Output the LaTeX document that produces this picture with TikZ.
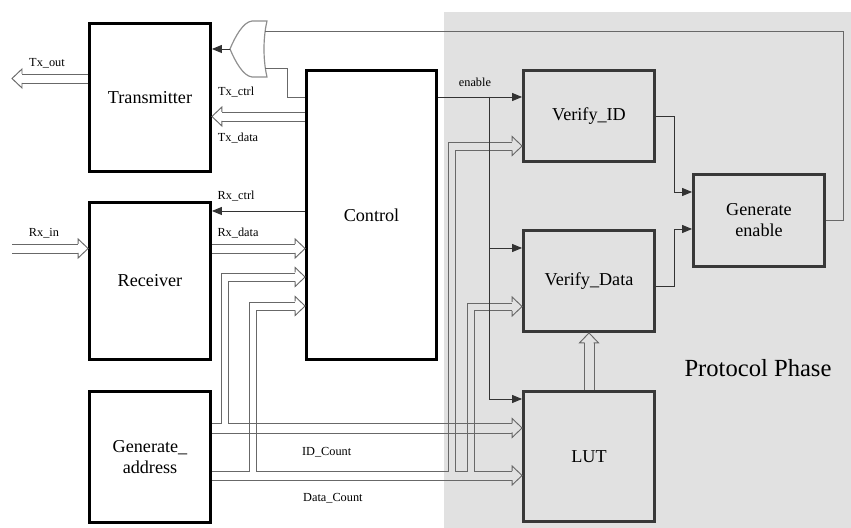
\documentclass[tikz,border=0pt]{standalone}
\usepackage{fontspec}
\setmainfont{Liberation Serif}
\usepackage{tikz}
\usetikzlibrary{arrows.meta, positioning}
\definecolor{phasegray}{HTML}{E1E1E1}
\definecolor{busline}{HTML}{686868}
\definecolor{wireline}{HTML}{333333}
\definecolor{gateline}{HTML}{8E8E8E}
\definecolor{boxline}{HTML}{383838}

\begin{document}
\begin{tikzpicture}[
    x=0.3mm, y=-0.3mm,
    blk/.style={draw=black, line width=2.4pt, fill=white, align=center,
        font=\fontsize{15.5}{18}\selectfont},
    pblk/.style={blk, draw=boxline, fill=phasegray},
    bus/.style={draw=busline, line width=0.8pt},
    busin/.style={bus, shorten >=3mm},
    sig/.style={draw=wireline, line width=0.8pt, -{Triangle[length=3mm, width=2.4mm]}},
    wire/.style={draw=busline, line width=0.8pt},
    lab/.style={font=\fontsize{10.5}{12}\selectfont, inner sep=1pt},
    hhead/.pic={\draw[bus] (-10,-4.5) -- (-10,-9.5) -- (0,0) -- (-10,9.5) -- (-10,4.5);}
]
\useasboundingbox (0,0) rectangle (851,528);
\fill[white] (0,0) rectangle (851,528);

% --- Protocol phase area ---
\fill[phasegray] (444,12) rectangle (851,528);
\node[font=\fontsize{21}{25}\selectfont] (phlab) at (758,368) {Protocol Phase};

% --- Blocks ---
\node[blk, minimum width=3.63cm, minimum height=4.44cm] (trans) at (150,97.5) {Transmitter};
\node[blk, minimum width=3.63cm, minimum height=4.71cm] (recv) at (150,281) {Receiver};
\node[blk, minimum width=3.63cm, minimum height=3.93cm] (gena) at (150,457) {Generate\_\\address};
\node[blk, minimum width=3.9cm, minimum height=8.67cm] (ctrl) at (371.5,215) {Control};
\node[pblk, minimum width=3.93cm, minimum height=2.73cm] (vid) at (589,116) {Verify\_ID};
\node[pblk, minimum width=3.93cm, minimum height=3.03cm] (vdata) at (589,281) {Verify\_Data};
\node[pblk, minimum width=3.93cm, minimum height=3.9cm] (lut) at (589,456.5) {LUT};
\node[pblk, minimum width=3.93cm, minimum height=2.76cm] (genen) at (759,220.5) {Generate\\enable};

% --- OR gate in front of the transmitter ---
\coordinate (gout) at (230,49);
\coordinate (gin1) at (265,31);
\coordinate (gin2) at (265,68);
\draw[draw=gateline, line width=1pt, fill=white] (267,21) -- (252,21)
    .. controls (243,22) and (235,37) .. (gout)
    .. controls (235,61) and (243,76) .. (252,77) -- (267,77)
    .. controls (263,60) and (263,38) .. (267,21) -- cycle;
\draw[sig] (gout) -- (trans.east |- gout);
\draw[wire] (genen.east) -- ++(18,0) |- (gin1);
\draw[wire] (ctrl.west |- 0,97) -- ++(-18,0) |- (gin2);

% --- Transmitter / receiver buses ---
\coordinate (txout) at (12,78.5);
\draw[busin] (trans.west |- 0,74) -- (txout |- 0,74)
    node[lab, pos=.54, yshift=3.3mm] (ltxout) {Tx\_out};
\draw[busin] (trans.west |- 0,83) -- (txout |- 0,83);
\pic[rotate=180] at (txout) {hhead};

\draw[busin] (ctrl.west |- 0,112) -- (trans.east |- 0,112)
    node[lab, pos=.74, yshift=6mm] (ltxctrl) {Tx\_ctrl};
\draw[busin] (ctrl.west |- 0,121) -- (trans.east |- 0,121)
    node[lab, pos=.72, yshift=-5.1mm] (ltxdata) {Tx\_data};
\pic[rotate=180] at (trans.east |- 0,116.5) {hhead};

\draw[sig] (ctrl.west |- 0,211) -- (recv.east |- 0,211)
    node[lab, pos=.74, yshift=4.5mm] (lrxctrl) {Rx\_ctrl};

\coordinate (rxin) at (12,248.5);
\draw[busin] (rxin |- 0,244) -- (recv.west |- 0,244)
    node[lab, pos=.42, yshift=3.3mm] (lrxin) {Rx\_in};
\draw[busin] (rxin |- 0,253) -- (recv.west |- 0,253);
\pic at (recv.west |- 0,248.5) {hhead};

\draw[busin] (recv.east |- 0,244) -- (ctrl.west |- 0,244)
    node[lab, pos=.28, yshift=3.3mm] (lrxdata) {Rx\_data};
\draw[busin] (recv.east |- 0,253) -- (ctrl.west |- 0,253);
\pic at (ctrl.west |- 0,248.5) {hhead};

% --- ID_Count bus ---
\draw[busin] (gena.east |- 0,423) -| (221,273) -- (ctrl.west |- 0,273);
\draw[bus, shorten <=3mm, shorten >=3mm] (ctrl.west |- 0,281) -| (228,423) -- (lut.west |- 0,423);
\draw[busin] (gena.east |- 0,433) -- (lut.west |- 0,433)
    node[lab, pos=.37, yshift=-5.7mm] (lidcnt) {ID\_Count};
\pic at (ctrl.west |- 0,277) {hhead};
\pic at (lut.west |- 0,428) {hhead};

% --- Data_Count bus ---
\draw[busin] (gena.east |- 0,471) -| (249,302) -- (ctrl.west |- 0,302);
\draw[bus, shorten <=3mm, shorten >=3mm] (ctrl.west |- 0,310) -| (256,471) -| (448,142) -- (vid.west |- 0,142);
\draw[bus, shorten <=3mm, shorten >=3mm] (vid.west |- 0,150) -| (455,471) -| (467,303) -- (vdata.west |- 0,303);
\draw[bus, shorten <=3mm, shorten >=3mm] (vdata.west |- 0,310) -| (474,471) -- (lut.west |- 0,471);
\draw[busin] (gena.east |- 0,480) -- (lut.west |- 0,480)
    node[lab, pos=.39, yshift=-5.4mm] (ldatacnt) {Data\_Count};
\pic at (ctrl.west |- 0,306) {hhead};
\pic at (vid.west |- 0,146) {hhead};
\pic at (vdata.west |- 0,306.5) {hhead};
\pic at (lut.west |- 0,475.5) {hhead};

% --- LUT to Verify_Data ---
\draw[busin] (lut.north -| 584,0) -- (vdata.south -| 584,0);
\draw[busin] (lut.north -| 594,0) -- (vdata.south -| 594,0);
\pic[rotate=90] at (vdata.south) {hhead};

% --- enable ---
\coordinate (ensplit) at (489,97);
\draw[sig] (ctrl.east |- 0,97) -- (vid.west |- 0,97)
    node[lab, pos=.44, yshift=4.5mm] (lenable) {enable};
\draw[sig] (ensplit) |- (vdata.west |- 0,248);
\draw[sig] (ensplit) |- (lut.west |- 0,399);

% --- Verify results to Generate enable ---
\draw[sig] (vid.east) -- ++(19,0) |- (genen.west |- 0,192);
\draw[sig] (vdata.east |- 0,286) -- ++(19,0) |- (genen.west |- 0,229);

\end{tikzpicture}
\end{document}
